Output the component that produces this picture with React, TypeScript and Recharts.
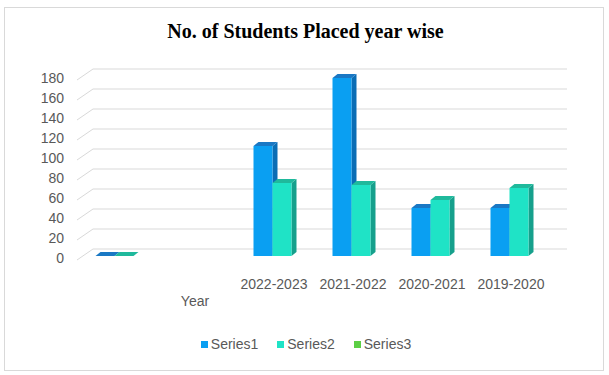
import { Bar, BarChart, CartesianGrid, XAxis, YAxis } from "recharts";

const categories = ["", "\nYear", "2022-2023", "2021-2022", "2020-2021", "2019-2020"];
const series1 = [0, null, 110, 178, 48, 48];
const series2 = [0, null, 73, 71, 56, 68];
const series3 = [null, null, null, null, null, null];
const yTicks = [0, 20, 40, 60, 80, 100, 120, 140, 160, 180];

const data = categories.map((name, i) => ({
  name,
  s1: series1[i],
  s2: series2[i],
  s3: series3[i],
}));

const FONT = "'Liberation Sans', Arial, sans-serif";
const TEXT = "#595959";
const GRID = "#d9d9d9";

// colours: front face, top face, side face
const SERIES = [
  { key: "s1", name: "Series1", front: "#0a9ff2", top: "#1a78c4", side: "#0a6db5" },
  { key: "s2", name: "Series2", front: "#1fe3c6", top: "#1fb99c", side: "#16a08c" },
  { key: "s3", name: "Series3", front: "#5ccf45", top: "#46a835", side: "#3d942e" },
];

const DEPTH_X = 5;
const DEPTH_Y = 4;

const make3DBar = (front: string, top: string, side: string) => (props: any) => {
  const { x, y, width, height } = props;
  if (x == null || y == null || width == null || height == null) return <g />;
  const r = x + width;
  const b = y + height;
  return (
    <g>
      <polygon
        points={`${r},${y} ${r + DEPTH_X},${y - DEPTH_Y} ${r + DEPTH_X},${b - DEPTH_Y} ${r},${b}`}
        fill={side}
      />
      <polygon
        points={`${x},${y} ${x + DEPTH_X},${y - DEPTH_Y} ${r + DEPTH_X},${y - DEPTH_Y} ${r},${y}`}
        fill={top}
      />
      {height > 0 && <rect x={x} y={y} width={width} height={height} fill={front} />}
    </g>
  );
};

// gridline on the back wall, with the short diagonal on the floor side
const gridLine = (props: any) => {
  const { x1, x2, y1, key } = props;
  return (
    <g key={key}>
      <line x1={x1 - 7.5} y1={y1 + 4} x2={x1 + 8.5} y2={y1 - 7} stroke={GRID} strokeWidth={1} />
      <line x1={x1 + 8.5} y1={y1 - 7} x2={x2 + 8.5} y2={y1 - 7} stroke={GRID} strokeWidth={1.2} />
    </g>
  );
};

const XTick = (props: any) => {
  const { x, y, payload } = props;
  const lines = String(payload.value).split("\n");
  return (
    <g>
      {lines.map((ln, i) => (
        <text
          key={i}
          x={x - 8}
          y={y + 20 + i * 17}
          textAnchor="middle"
          dominantBaseline="central"
          fontFamily={FONT}
          fontSize={14}
          fill={TEXT}
        >
          {ln}
        </text>
      ))}
    </g>
  );
};

const YTick = (props: any) => {
  const { x, y, payload } = props;
  return (
    <text
      x={x}
      y={y + 2}
      textAnchor="end"
      dominantBaseline="central"
      fontFamily={FONT}
      fontSize={14}
      fill={TEXT}
    >
      {payload.value}
    </text>
  );
};

const ChartLegend = () => (
  <div
    style={{
      position: "absolute",
      left: 0,
      top: 336,
      width: 609,
      display: "flex",
      justifyContent: "center",
      gap: 19,
      fontFamily: FONT,
      fontSize: 14,
      color: TEXT,
      paddingLeft: 3,
      boxSizing: "border-box",
    }}
  >
    {SERIES.map((s) => (
      <div key={s.key} style={{ display: "flex", alignItems: "center" }}>
        <span
          style={{ display: "inline-block", width: 7, height: 7, background: s.front, marginRight: 3 }}
        />
        <span>{s.name}</span>
      </div>
    ))}
  </div>
);

export default function App() {
  return (
    <div
      style={{
        position: "absolute",
        left: 0,
        top: 0,
        width: 609,
        height: 375,
        background: "#fff",
      }}
    >
      <div
        style={{
          position: "absolute",
          left: 4,
          top: 7,
          width: 598,
          height: 362,
          border: "1px solid #d9d9d9",
        }}
      />
      <div
        style={{
          position: "absolute",
          left: 0,
          top: 20,
          width: 609,
          textAlign: "center",
          fontFamily: "'Liberation Serif', 'Times New Roman', serif",
          fontWeight: 700,
          fontSize: 20,
          color: "#000",
          paddingLeft: 2,
          boxSizing: "border-box",
        }}
      >
        No. of Students Placed year wise
      </div>
      <div style={{ position: "absolute", left: 0, top: 0 }}>
        <BarChart
          width={609}
          height={375}
          data={data}
          margin={{ top: 76, right: 50.5, bottom: 89, left: 0 }}
          barCategoryGap={11}
          barGap={0}
        >
          <CartesianGrid vertical={false} horizontal={gridLine} />
          <XAxis
            dataKey="name"
            height={30}
            axisLine={false}
            tickLine={false}
            interval={0}
            tick={<XTick />}
          />
          <YAxis
            width={84.5}
            domain={[0, 180]}
            ticks={yTicks}
            axisLine={false}
            tickLine={false}
            tickSize={0}
            tickMargin={20.5}
            interval={0}
            tick={<YTick />}
          />
          {SERIES.map((s) => (
            <Bar
              key={s.key}
              dataKey={s.key}
              name={s.name}
              fill={s.front}
              shape={make3DBar(s.front, s.top, s.side)}
              isAnimationActive={false}
            />
          ))}
        </BarChart>
      </div>
      <ChartLegend />
    </div>
  );
}
